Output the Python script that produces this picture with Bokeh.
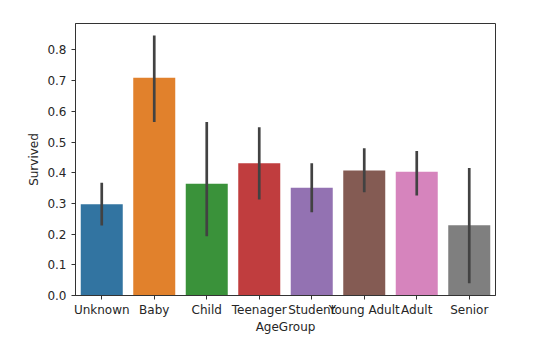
from bokeh.plotting import figure
from bokeh.models import Range1d, FixedTicker, NumeralTickFormatter, ColumnDataSource
from bokeh.embed import file_html
from bokeh.resources import INLINE

categories = ["Unknown", "Baby", "Child", "Teenager", "Student", "Young Adult", "Adult", "Senior"]
survived = [0.297, 0.709, 0.364, 0.431, 0.351, 0.407, 0.403, 0.229]
ci_low = [0.228, 0.565, 0.193, 0.313, 0.271, 0.336, 0.326, 0.040]
ci_high = [0.367, 0.847, 0.565, 0.548, 0.431, 0.480, 0.471, 0.415]
colors = ["#3274a1", "#e1812c", "#3a923a", "#c03d3e", "#9372b2", "#845b53", "#d684bd", "#7f7f7f"]
y_ticks = [0.0, 0.1, 0.2, 0.3, 0.4, 0.5, 0.6, 0.7, 0.8]

src = ColumnDataSource(dict(cat=categories, val=survived, lo=ci_low, hi=ci_high, color=colors))

p = figure(x_range=categories, y_range=Range1d(0, 0.886), width=542, height=339,
           output_backend="svg", toolbar_location=None,
           min_border_left=75, min_border_top=23, min_border_right=47, min_border_bottom=44)
p.x_range.range_padding = 0

p.vbar(x="cat", top="val", bottom=0, width=0.8, fill_color="color", line_color=None, source=src)
p.segment(x0="cat", y0="lo", x1="cat", y1="hi", line_color="#424242", line_width=2.7,
          line_cap="butt", source=src)

p.xgrid.visible = False
p.ygrid.visible = False
p.outline_line_color = "#333333"
p.outline_line_width = 1
p.outline_line_alpha = 1

p.yaxis.ticker = FixedTicker(ticks=y_ticks)
p.yaxis.formatter = NumeralTickFormatter(format="0.0")
p.xaxis.axis_label = "AgeGroup"
p.yaxis.axis_label = "Survived"

for ax in (p.xaxis, p.yaxis):
    ax.axis_line_color = "#333333"
    ax.axis_line_width = 1
    ax.major_tick_line_color = "#333333"
    ax.major_tick_line_width = 1
    ax.major_tick_out = 4
    ax.major_tick_in = 0
    ax.minor_tick_out = 0
    ax.minor_tick_in = 0
    ax.major_label_text_font = "DejaVu Sans"
    ax.major_label_text_font_size = "12px"
    ax.major_label_text_color = "#262626"
    ax.axis_label_text_font = "DejaVu Sans"
    ax.axis_label_text_font_size = "12px"
    ax.axis_label_text_font_style = "normal"
    ax.axis_label_text_color = "#262626"
p.xaxis.major_label_standoff = 3
p.yaxis.major_label_standoff = 5
p.xaxis.axis_label_standoff = 0
p.yaxis.axis_label_standoff = 3

open("out.html", "w").write(file_html(p, INLINE))
